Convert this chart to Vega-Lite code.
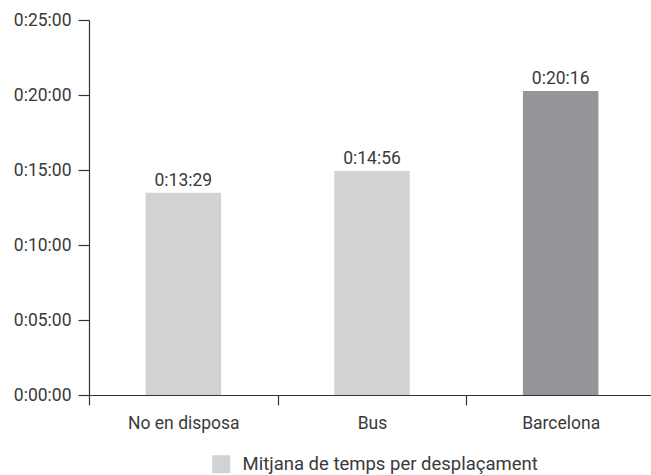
{
  "$schema": "https://vega.github.io/schema/vega-lite/v6.json",
  "autosize": "none",
  "padding": {"left": 89, "top": 20, "right": 0, "bottom": 80},
  "width": 566,
  "height": 375,
  "background": "white",
  "config": {
    "view": {"stroke": null},
    "font": "Roboto",
    "axis": {"labelFont": "Roboto", "labelFontSize": 17.5, "labelColor": "#3a3a3a", "domainColor": "#333333", "tickColor": "#333333", "domainWidth": 1.2, "tickWidth": 1.2, "grid": false, "title": null},
    "legend": {"labelFont": "Roboto", "labelFontSize": 18.5, "labelColor": "#3a3a3a", "labelLimit": 0}
  },
  "data": {
    "values": [
      {"cat": "No en disposa", "seconds": 809, "label": "0:13:29", "serie": "Mitjana de temps per desplaçament"},
      {"cat": "Bus", "seconds": 896, "label": "0:14:56", "serie": "Mitjana de temps per desplaçament"},
      {"cat": "Barcelona", "seconds": 1216, "label": "0:20:16", "serie": "Mitjana de temps per desplaçament"}
    ]
  },
  "encoding": {
    "x": {
      "field": "cat", "type": "nominal", "sort": null,
      "scale": {"paddingInner": 0, "paddingOuter": 0},
      "axis": {"labelAngle": 0, "tickBand": "extent", "tickSize": 10, "labelPadding": 9}
    },
    "y": {
      "field": "seconds", "type": "quantitative",
      "scale": {"domain": [0, 1500], "nice": false},
      "axis": {"values": [0, 300, 600, 900, 1200, 1500], "tickSize": 11, "labelPadding": 7,
        "labelExpr": "'0:' + (datum.value/60 < 10 ? '0' : '') + (datum.value/60) + ':00'"}
    }
  },
  "layer": [
    {
      "mark": {"type": "bar", "width": {"band": 0.4}},
      "encoding": {
        "color": {
          "condition": {"test": "datum.cat === 'Barcelona'", "value": "#939598"},
          "field": "serie", "type": "nominal",
          "scale": {"range": ["#d1d2d4"]},
          "legend": {"title": null, "orient": "none", "legendX": 123, "legendY": 435, "padding": 0, "symbolType": "square", "symbolSize": 324, "symbolStrokeWidth": 0, "labelOffset": 12}
        }
      }
    },
    {
      "mark": {"type": "text", "baseline": "alphabetic", "dy": -7, "fontSize": 17.5, "color": "#3a3a3a"},
      "encoding": {"text": {"field": "label"}}
    }
  ]
}
